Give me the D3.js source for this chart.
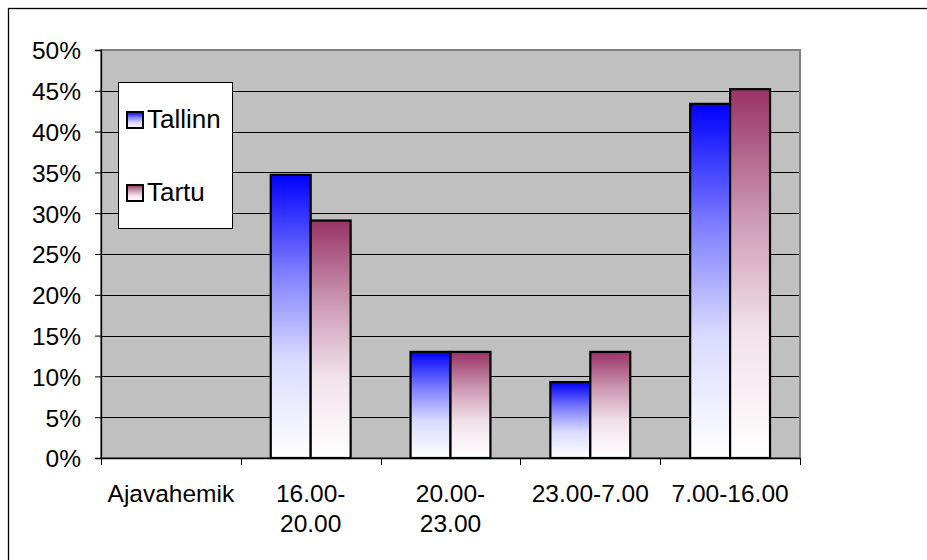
<!DOCTYPE html>
<html>
<head>
<meta charset="utf-8">
<script src="https://cdn.jsdelivr.net/npm/d3@7"></script>
<style>
  body { margin: 0; background: #fff; }
  text { font-family: Arial, "Liberation Sans", sans-serif; fill: #000; }
</style>
</head>
<body>
<div id="chart"></div>
<script>
// Data
const categories = ['Ajavahemik', '16.00-20.00', '20.00-23.00', '23.00-7.00', '7.00-16.00'];
const categoryLines = [['Ajavahemik'], ['16.00-', '20.00'], ['20.00-', '23.00'], ['23.00-7.00'], ['7.00-16.00']];
const seriesNames = ['Tallinn', 'Tartu'];
const tallinn = [0, 34.7, 13.0, 9.3, 43.4];
const tartu = [0, 29.1, 13.0, 13.0, 45.2];
const yTicks = [0, 5, 10, 15, 20, 25, 30, 35, 40, 45, 50];
const seriesColors = ['#0000ff', '#993366'];

const width = 927;
const height = 560;
const plot = { left: 101, right: 800, top: 50, bottom: 458 };

const svg = d3.select('#chart')
  .append('svg')
  .attr('width', width)
  .attr('height', height);

// gradients: colour at top fading to white
const defs = svg.append('defs');
const fade = [[0, 0], [0.35, 0.5], [0.65, 0.85], [1, 1]];
seriesColors.forEach((c, i) => {
  const g = defs.append('linearGradient')
    .attr('id', 'grad' + i)
    .attr('x1', 0).attr('y1', 0).attr('x2', 0).attr('y2', 1);
  fade.forEach(f => {
    g.append('stop')
      .attr('offset', f[0])
      .attr('stop-color', d3.interpolateRgb(c, '#ffffff')(f[1]));
  });
});

// outer chart border (runs off the canvas on the right and bottom)
svg.append('rect')
  .attr('x', 8.5).attr('y', 8.5)
  .attr('width', 1000).attr('height', 1000)
  .attr('fill', 'none')
  .attr('stroke', '#000')
  .attr('stroke-width', 1.3);

const x0 = d3.scaleBand()
  .domain(categories)
  .range([plot.left, plot.right]);

const x1 = d3.scaleBand()
  .domain(seriesNames)
  .range([0, x0.bandwidth()])
  .paddingInner(0)
  .paddingOuter(0.75);

const y = d3.scaleLinear()
  .domain([0, 50])
  .range([plot.bottom, plot.top]);

// plot area
svg.append('rect')
  .attr('x', plot.left).attr('y', plot.top)
  .attr('width', plot.right - plot.left)
  .attr('height', plot.bottom - plot.top)
  .attr('fill', '#c0c0c0')
  .attr('stroke', '#808080')
  .attr('stroke-width', 2);

// gridlines
svg.append('g')
  .selectAll('line')
  .data(yTicks.filter(t => t > 0 && t < 50))
  .enter()
  .append('line')
  .attr('x1', plot.left).attr('x2', plot.right - 1)
  .attr('y1', d => Math.round(y(d)) + 0.5)
  .attr('y2', d => Math.round(y(d)) + 0.5)
  .attr('stroke', '#000')
  .attr('stroke-width', 1);

// bars
const rows = categories.map((c, i) => ({ cat: c, values: [tallinn[i], tartu[i]] }));
const groups = svg.append('g')
  .selectAll('g')
  .data(rows)
  .enter()
  .append('g')
  .attr('transform', d => `translate(${x0(d.cat)},0)`);

groups.selectAll('rect')
  .data(d => d.values.map((v, i) => ({ name: seriesNames[i], v: v, i: i })).filter(e => e.v > 0))
  .enter()
  .append('rect')
  .attr('x', d => x1(d.name))
  .attr('y', d => y(d.v))
  .attr('width', x1.bandwidth())
  .attr('height', d => y(0) - y(d.v))
  .attr('fill', d => `url(#grad${d.i})`)
  .attr('stroke', '#000')
  .attr('stroke-width', 2.2);

// y axis
const yAxis = svg.append('g')
  .attr('transform', `translate(${plot.left},0)`)
  .call(d3.axisLeft(y).tickValues(yTicks).tickSize(6).tickPadding(14).tickFormat(d => d + '%'));
yAxis.select('.domain').attr('stroke', '#000').attr('stroke-width', 1.3);
yAxis.selectAll('.tick line').attr('stroke', '#000');
yAxis.selectAll('text')
  .attr('font-size', 24.5)
  .attr('font-family', 'Arial, "Liberation Sans", sans-serif')
  .attr('dy', '0.36em');

// x axis: ticks at category boundaries
const xAxis = svg.append('g');
xAxis.append('line')
  .attr('x1', plot.left).attr('x2', plot.right)
  .attr('y1', plot.bottom + 0.5).attr('y2', plot.bottom + 0.5)
  .attr('stroke', '#000').attr('stroke-width', 1.3);
xAxis.selectAll('line.tk')
  .data(categories.map(c => x0(c)).concat([plot.right]))
  .enter()
  .append('line')
  .attr('class', 'tk')
  .attr('x1', d => Math.round(d) + 0.5).attr('x2', d => Math.round(d) + 0.5)
  .attr('y1', plot.bottom).attr('y2', plot.bottom + 7)
  .attr('stroke', '#000');

const labels = xAxis.selectAll('text')
  .data(categories)
  .enter()
  .append('text')
  .attr('x', d => x0(d) + x0.bandwidth() / 2)
  .attr('y', 502)
  .attr('text-anchor', 'middle')
  .attr('font-size', 24.5);
labels.selectAll('tspan')
  .data((d, i) => categoryLines[i])
  .enter()
  .append('tspan')
  .attr('x', function() { return d3.select(this.parentNode).attr('x'); })
  .attr('dy', (d, i) => i === 0 ? 0 : 30)
  .text(d => d);

// legend
const legend = svg.append('g');
legend.append('rect')
  .attr('x', 118.5).attr('y', 82.5)
  .attr('width', 114).attr('height', 146)
  .attr('fill', '#fff')
  .attr('stroke', '#000')
  .attr('stroke-width', 1);

const legendY = d3.scalePoint()
  .domain(seriesNames)
  .range([120, 193]);

const items = legend.selectAll('g')
  .data(seriesNames)
  .enter()
  .append('g')
  .attr('transform', d => `translate(0,${legendY(d)})`);
items.append('rect')
  .attr('x', 127).attr('y', -8)
  .attr('width', 16).attr('height', 16)
  .attr('fill', (d, i) => `url(#grad${i})`)
  .attr('stroke', '#000')
  .attr('stroke-width', 2);
items.append('text')
  .attr('x', 147)
  .attr('y', 8)
  .attr('font-size', 26)
  .text(d => d);
</script>
</body>
</html>
